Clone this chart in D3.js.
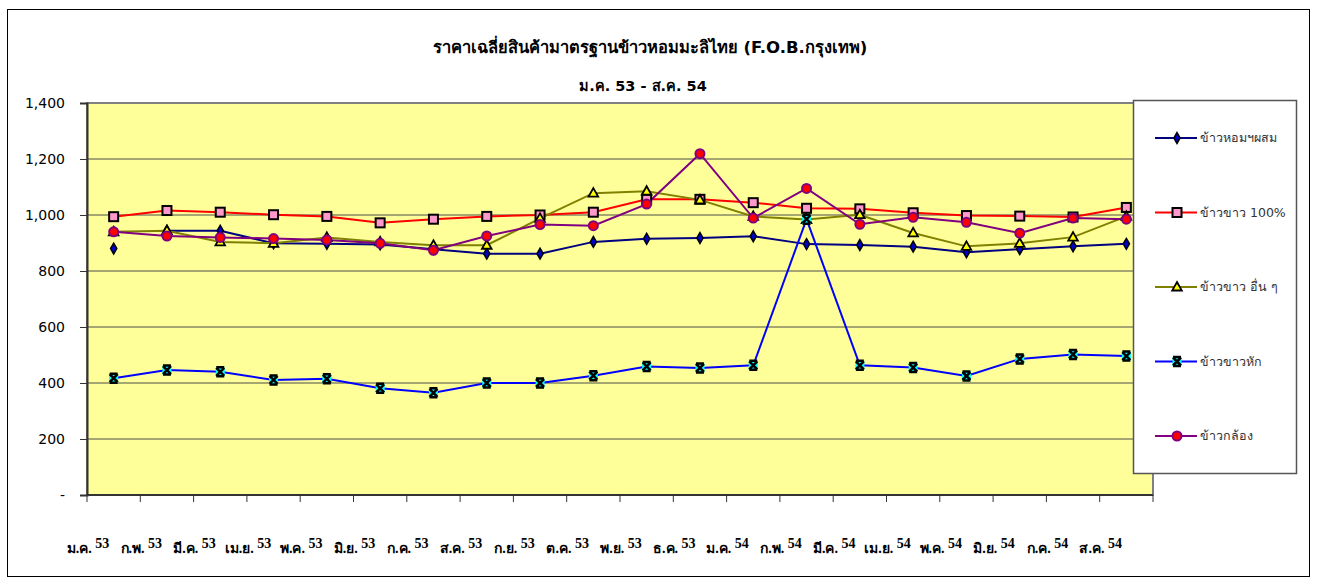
<!DOCTYPE html>
<html>
<head>
<meta charset="utf-8">
<script src="https://cdn.jsdelivr.net/npm/d3@7"></script>
<style>
  body { margin: 0; background: #fff; }
  svg { display: block; }
</style>
</head>
<body>
<div id="chart"></div>
<script>
// categories (months, Thai Buddhist era years)
var months = ["ม.ค. 53", "ก.พ. 53", "มี.ค. 53", "เม.ย. 53", "พ.ค. 53", "มิ.ย. 53", "ก.ค. 53",
  "ส.ค. 53", "ก.ย. 53", "ต.ค. 53", "พ.ย. 53", "ธ.ค. 53", "ม.ค. 54", "ก.พ. 54", "มี.ค. 54",
  "เม.ย. 54", "พ.ค. 54", "มิ.ย. 54", "ก.ค. 54", "ส.ค. 54"];

// series values
var homPasom = [880, 944, 944, 899, 897, 895, 878, 862, 862, 904, 915, 918, 924, 896, 893, 887, 867, 878, 888, 897];
var khao100 = [994, 1016, 1010, 1001, 995, 972, 985, 995, 1000, 1010, 1056, 1056, 1044, 1024, 1022, 1008, 998, 996, 993, 1027];
var khaoOther = [940, 944, 904, 899, 920, 904, 892, 892, 988, 1078, 1085, 1054, 995, 984, 1001, 936, 888, 899, 921, 995];
var khaoHak = [417, 446, 440, 411, 415, 381, 365, 400, 400, 426, 459, 454, 463, 985, 463, 455, 425, 486, 502, 496];
var khaoKlong = [940, 925, 920, 916, 911, 899, 874, 925, 966, 962, 1039, 1219, 989, 1095, 967, 992, 974, 935, 989, 985];

var seriesNames = ["ข้าวหอมฯผสม", "ข้าวขาว 100%", "ข้าวขาว อื่น ๆ", "ข้าวขาวหัก", "ข้าวกล้อง"];
var yTicks = [0, 200, 400, 600, 800, 1000, 1200, 1400];

var W = 1317, H = 585;
var plot = {left: 87, right: 1153, top: 103, bottom: 495};

var series = [
  {name: seriesNames[0], values: homPasom, color: "#000080", marker: "diamond", from: 1},
  {name: seriesNames[1], values: khao100, color: "#ff0000", marker: "square", from: 0},
  {name: seriesNames[2], values: khaoOther, color: "#808000", marker: "triangle", from: 0},
  {name: seriesNames[3], values: khaoHak, color: "#0000ff", marker: "cross", from: 0},
  {name: seriesNames[4], values: khaoKlong, color: "#800080", marker: "circle", from: 0}
];

var svg = d3.select("#chart").append("svg")
    .attr("width", W)
    .attr("height", H);

// outer chart border
svg.append("rect")
    .attr("x", 7.5).attr("y", 9.5)
    .attr("width", 1302).attr("height", 567)
    .attr("fill", "#fff")
    .attr("stroke", "#000")
    .attr("stroke-width", 1);

var x = d3.scaleBand()
    .domain(months)
    .range([plot.left, plot.right]);

var y = d3.scaleLinear()
    .domain([0, 1400])
    .range([plot.bottom, plot.top]);

// plot area
svg.append("rect")
    .attr("x", plot.left).attr("y", plot.top)
    .attr("width", plot.right - plot.left)
    .attr("height", plot.bottom - plot.top)
    .attr("fill", "#ffff99")
    .attr("stroke", "#808080")
    .attr("stroke-width", 2);

// gridlines
svg.append("g")
  .selectAll("line")
  .data(yTicks.filter(function(d) { return d > 0 && d < 1400; }))
  .enter().append("line")
    .attr("x1", plot.left).attr("x2", plot.right)
    .attr("y1", function(d) { return y(d); })
    .attr("y2", function(d) { return y(d); })
    .attr("stroke", "#4d4d4d")
    .attr("stroke-width", 1);

// y axis
var yAxis = svg.append("g")
    .attr("transform", "translate(" + plot.left + ",0)")
    .call(d3.axisLeft(y)
      .tickValues(yTicks)
      .tickSize(7)
      .tickPadding(15)
      .tickFormat(function(d) { return d === 0 ? "-" : d3.format(",")(d); }));
yAxis.select(".domain").attr("stroke", "#333").attr("stroke-width", 2);
yAxis.selectAll(".tick line").attr("stroke", "#333");
yAxis.selectAll("text")
    .attr("font-family", "Tahoma, 'DejaVu Sans', sans-serif")
    .attr("font-size", "14px")
    .attr("fill", "#000");

// x axis: ticks on category boundaries
var bounds = months.map(function(m) { return x(m); }).concat([plot.right]);
svg.append("line")
    .attr("x1", plot.left - 1).attr("x2", plot.right)
    .attr("y1", plot.bottom).attr("y2", plot.bottom)
    .attr("stroke", "#333").attr("stroke-width", 2);
svg.append("g")
  .selectAll("line")
  .data(bounds)
  .enter().append("line")
    .attr("x1", function(d) { return d; })
    .attr("x2", function(d) { return d; })
    .attr("y1", plot.bottom)
    .attr("y2", plot.bottom + 7)
    .attr("stroke", "#333");

// x labels sit under the left tick of each category,
// the year number a bit higher than the Thai part
var xLab = svg.append("g")
  .selectAll("text")
  .data(months)
  .enter().append("text")
    .attr("x", function(d) { return x(d) + 1; })
    .attr("y", 553)
    .attr("text-anchor", "middle")
    .attr("font-family", "'Liberation Serif', 'Times New Roman', serif")
    .attr("font-weight", "bold")
    .attr("font-size", "14px")
    .attr("fill", "#000");
xLab.append("tspan")
    .text(function(d) { return d.split(" ")[0] + " "; });
xLab.append("tspan")
    .attr("dy", -5)
    .text(function(d) { return d.split(" ")[1]; });

// lines
var line = d3.line()
    .x(function(d) { return x(d.m) + x.bandwidth() / 2; })
    .y(function(d) { return y(d.v); });

series.forEach(function(s) {
  var pts = s.values.map(function(v, i) { return {m: months[i], v: v, i: i}; });
  svg.append("path")
      .datum(pts.filter(function(d) { return d.i >= s.from; }))
      .attr("fill", "none")
      .attr("stroke", s.color)
      .attr("stroke-width", 2)
      .attr("d", line);
});

// draws one marker at cx, cy into group g
function drawMarker(g, kind, cx, cy) {
  if (kind === "diamond") {
    g.append("path")
        .attr("d", d3.symbol().type(d3.symbolDiamond).size(34)())
        .attr("transform", "translate(" + cx + "," + cy + ")")
        .attr("fill", "#0000cc").attr("stroke", "#000").attr("stroke-width", 1.5);
  } else if (kind === "square") {
    g.append("rect")
        .attr("x", cx - 4.5).attr("y", cy - 4.5)
        .attr("width", 9).attr("height", 9)
        .attr("fill", "#ff99cc").attr("stroke", "#000").attr("stroke-width", 2);
  } else if (kind === "triangle") {
    g.append("path")
        .attr("d", "M0,-5L4.8,3.5L-4.8,3.5Z")
        .attr("transform", "translate(" + cx + "," + cy + ")")
        .attr("fill", "#ffff00").attr("stroke", "#000").attr("stroke-width", 1.8);
  } else if (kind === "cross") {
    g.append("rect")
        .attr("x", cx - 4.5).attr("y", cy - 4.5)
        .attr("width", 9).attr("height", 9)
        .attr("fill", "#00ffff");
    g.append("path")
        .attr("d", "M-4,-4L4,4M4,-4L-4,4M-4,-4.5H4M-4,4.5H4")
        .attr("transform", "translate(" + cx + "," + cy + ")")
        .attr("stroke", "#000").attr("stroke-width", 2.5).attr("fill", "none");
  } else if (kind === "circle") {
    g.append("circle")
        .attr("cx", cx).attr("cy", cy).attr("r", 4.5)
        .attr("fill", "#ff0000").attr("stroke", "#800080").attr("stroke-width", 2);
  }
}

series.forEach(function(s) {
  var g = svg.append("g");
  s.values.forEach(function(v, i) {
    drawMarker(g, s.marker, x(months[i]) + x.bandwidth() / 2, y(v));
  });
});

// legend
var legend = svg.append("g");
legend.append("rect")
    .attr("x", 1133.5).attr("y", 100.5)
    .attr("width", 163).attr("height", 373)
    .attr("fill", "#fff")
    .attr("stroke", "#555")
    .attr("stroke-width", 1.5);

var legendY = d3.scalePoint()
    .domain(seriesNames)
    .range([138, 436]);

series.forEach(function(s) {
  var ly = legendY(s.name);
  legend.append("line")
      .attr("x1", 1155).attr("x2", 1197)
      .attr("y1", ly).attr("y2", ly)
      .attr("stroke", s.color).attr("stroke-width", 2);
  drawMarker(legend, s.marker, 1177, ly);
  legend.append("text")
      .attr("x", 1200).attr("y", ly)
      .attr("dy", "0.35em")
      .attr("font-family", "Tahoma, 'DejaVu Sans', sans-serif")
      .attr("font-size", "12.5px")
      .attr("fill", "#333")
      .text(s.name);
});

// titles
svg.append("text")
    .attr("x", 650).attr("y", 53)
    .attr("text-anchor", "middle")
    .attr("font-family", "Tahoma, 'DejaVu Sans', sans-serif")
    .attr("font-weight", "bold")
    .attr("font-size", "16.5px")
    .text("ราคาเฉลี่ยสินค้ามาตรฐานข้าวหอมมะลิไทย (F.O.B.กรุงเทพ)");
svg.append("text")
    .attr("x", 643).attr("y", 91)
    .attr("text-anchor", "middle")
    .attr("font-family", "Tahoma, 'DejaVu Sans', sans-serif")
    .attr("font-weight", "bold")
    .attr("font-size", "14.5px")
    .text("ม.ค. 53 - ส.ค. 54");
</script>
</body>
</html>
